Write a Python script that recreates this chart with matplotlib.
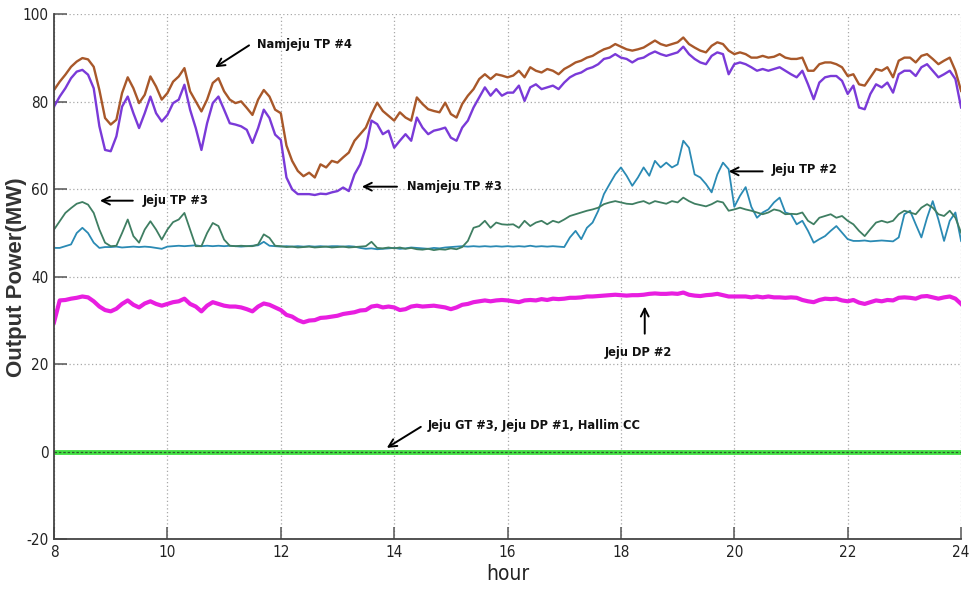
import numpy as np
import matplotlib
matplotlib.use("Agg")
import matplotlib.pyplot as plt
from matplotlib import font_manager as fm

plt.rcParams['axes.unicode_minus'] = False

# sampling every 0.1 h from 8:00 to 24:00
hours = np.round(np.arange(8.0, 24.0001, 0.1), 1)

namjeju_tp4 = [
    82.7, 84.6, 86.2, 88.0, 89.2, 90.0, 89.7, 88.0, 82.7, 76.3,
    74.8, 75.9, 82.0, 85.6, 83.1, 79.7, 81.6, 85.8, 83.5, 80.5,
    82.0, 84.6, 85.8, 87.7, 82.4, 80.1, 77.8, 80.5, 84.3, 85.4,
    82.4, 80.5, 79.7, 80.1, 78.6, 77.0, 80.5, 82.7, 81.2, 78.2,
    77.4, 70.0, 66.5, 64.2, 63.0, 63.8, 62.7, 65.7, 65.0, 66.5,
    66.1, 67.3, 68.4, 71.1, 72.6, 74.1, 77.2, 79.8, 77.9, 76.8,
    75.7, 77.6, 76.4, 75.7, 81.0, 79.5, 78.3, 77.9, 77.6, 79.8,
    77.2, 76.4, 79.5, 81.4, 82.9, 85.2, 86.3, 85.2, 86.3, 86.0,
    85.6, 86.0, 87.1, 85.6, 87.9, 87.1, 86.7, 87.5, 87.1, 86.3,
    87.5, 88.2, 89.0, 89.4, 90.1, 90.5, 91.3, 92.0, 92.4, 93.2,
    92.6, 92.0, 91.7, 92.0, 92.4, 93.2, 94.0, 93.2, 92.8, 93.2,
    93.6, 94.7, 93.2, 92.4, 91.7, 91.3, 92.8, 93.6, 93.2, 91.7,
    90.9, 91.3, 90.9, 90.1, 90.1, 90.5, 90.1, 90.3, 90.9, 90.1,
    89.8, 89.8, 90.1, 87.1, 87.1, 88.6, 89.0, 89.0, 88.6, 87.9,
    85.9, 86.3, 84.0, 83.7, 85.6, 87.5, 87.1, 87.9, 85.6, 89.4,
    90.1, 90.1, 89.0, 90.5, 90.9, 89.8, 88.6, 89.4, 90.1, 87.1,
    82.5,
]

namjeju_tp3 = [
    78.9, 81.2, 83.1, 85.4, 86.9, 87.3, 86.2, 83.1, 74.4, 69.0,
    68.7, 72.1, 78.9, 81.2, 77.4, 74.0, 77.4, 81.2, 77.4, 75.5,
    77.0, 79.7, 80.5, 83.9, 78.2, 74.0, 69.0, 75.1, 79.7, 81.2,
    78.2, 75.1, 74.8, 74.4, 73.6, 70.6, 74.0, 78.2, 76.3, 72.5,
    71.3, 62.7, 60.0, 58.9, 58.9, 58.9, 58.7, 59.0, 58.9, 59.3,
    59.6, 60.4, 59.6, 63.4, 65.7, 69.5, 75.7, 74.9, 72.6, 73.4,
    69.5, 71.1, 72.6, 71.1, 76.4, 74.1, 72.6, 73.4, 73.7, 74.1,
    71.8, 71.1, 74.1, 75.7, 78.7, 81.0, 83.3, 81.4, 82.9, 81.4,
    82.1, 82.1, 83.7, 80.2, 83.3, 84.0, 82.9, 83.3, 83.7, 82.9,
    84.4, 85.6, 86.3, 86.7, 87.5, 87.9, 88.6, 89.8, 90.1, 90.9,
    90.1, 89.8, 89.0, 89.8, 90.1, 90.9, 91.5, 90.9, 90.5, 90.9,
    91.3, 92.6, 90.9, 89.8, 89.0, 88.6, 90.5, 91.3, 90.9, 86.3,
    88.6, 89.0, 88.6, 87.9, 87.1, 87.5, 87.1, 87.5, 87.9, 87.1,
    86.3, 85.6, 87.1, 84.0, 80.6, 84.4, 85.6, 85.9, 85.9, 84.8,
    81.8, 83.7, 78.7, 78.3, 81.8, 84.0, 83.3, 84.4, 82.1, 86.3,
    87.1, 87.1, 85.9, 87.9, 88.6, 87.1, 85.6, 86.3, 87.1, 85.2,
    78.7,
]

jeju_tp3 = [
    50.8, 52.7, 54.6, 55.7, 56.7, 57.1, 56.5, 54.6, 50.8, 47.8,
    47.0, 47.1, 50.0, 53.1, 49.3, 47.8, 50.8, 52.7, 50.8, 48.5,
    50.8, 52.5, 53.1, 54.6, 50.8, 47.0, 47.0, 50.0, 52.3, 51.6,
    48.5, 47.1, 47.0, 47.1, 47.0, 47.0, 47.4, 49.7, 48.9, 47.1,
    47.0, 46.8, 46.9, 46.7, 46.8, 46.9, 46.7, 46.8, 46.9, 46.7,
    46.8, 46.9, 46.7, 46.8, 46.9, 47.0, 48.0, 46.6, 46.5, 46.7,
    46.5, 46.7, 46.4, 46.6, 46.3, 46.2, 46.4, 46.1, 46.3, 46.2,
    46.5, 46.3, 46.8, 48.2, 51.2, 51.6, 52.8, 51.2, 52.4, 52.0,
    51.9, 52.0, 51.2, 52.8, 51.6, 52.4, 52.8, 52.0, 52.8, 52.4,
    53.1, 53.9, 54.3, 54.7, 55.1, 55.4, 55.8, 56.6, 57.0, 57.3,
    57.0, 56.7, 56.6, 57.0, 57.3, 56.7, 57.3, 57.0, 56.7, 57.3,
    57.0, 58.1, 57.3, 56.7, 56.4, 56.1, 56.6, 57.3, 57.0, 55.1,
    55.4, 55.8, 55.4, 55.1, 54.7, 54.3, 54.7, 55.4, 55.1, 54.3,
    54.4, 54.3, 54.7, 52.8, 52.0, 53.5, 53.9, 54.3, 53.5, 53.9,
    52.8, 52.0, 50.5, 49.3, 50.9, 52.4, 52.8, 52.4, 52.8, 54.3,
    55.1, 54.7, 54.3, 55.8, 56.6, 55.8, 54.3, 53.9, 55.1, 53.5,
    50.1,
]

jeju_tp2 = [
    46.6, 46.6, 47.0, 47.4, 50.0, 51.2, 50.0, 47.8, 46.6, 46.8,
    46.8, 46.9, 46.7, 46.8, 46.9, 46.8, 46.9, 46.8, 46.6, 46.4,
    46.9, 47.0, 47.1, 47.0, 47.1, 47.2, 47.0, 47.1, 47.0, 47.1,
    47.0, 47.1, 47.0, 46.9, 47.0, 47.1, 47.2, 48.0, 47.1, 47.0,
    46.9, 47.0, 46.9, 47.0, 46.9, 47.0, 46.9, 47.0, 46.9, 47.0,
    47.0, 46.9, 47.0, 46.9, 46.6, 46.4, 46.5, 46.3, 46.4, 46.5,
    46.6, 46.4, 46.5, 46.7, 46.6, 46.5, 46.4, 46.6, 46.5, 46.7,
    46.8, 46.9, 47.0, 46.9, 47.0, 46.9, 47.0, 46.9, 47.0, 46.9,
    47.0, 46.9, 47.0, 46.9, 47.1, 46.9, 47.0, 46.9, 47.0, 46.9,
    46.8, 49.0, 50.5, 48.6, 51.2, 52.4, 55.1, 58.9, 61.2, 63.4,
    65.0, 63.1, 60.8, 62.7, 65.0, 63.1, 66.5, 65.0, 66.1, 65.0,
    65.7, 71.1, 69.5, 63.4, 62.7, 61.2, 59.3, 63.4, 66.1, 64.6,
    56.0, 58.5, 60.5, 56.0, 53.5, 54.7, 55.4, 57.0, 58.1, 54.7,
    54.3, 52.0, 52.8, 50.5, 47.8, 48.6, 49.3, 50.5, 51.6, 50.1,
    48.6, 48.2, 48.2, 48.3, 48.1, 48.2, 48.3, 48.2, 48.1, 49.0,
    54.3, 55.1, 52.0, 49.0, 53.5, 57.3, 53.1, 48.2, 52.8, 54.7,
    48.2,
]

jeju_dp2 = [
    29.6, 34.6, 34.7, 35.0, 35.2, 35.5, 35.3, 34.4, 33.2, 32.4,
    32.1, 32.7, 33.8, 34.6, 33.6, 33.0, 33.9, 34.4, 33.8, 33.4,
    33.8, 34.2, 34.4, 35.0, 33.8, 33.2, 32.1, 33.4, 34.2, 33.8,
    33.4, 33.2, 33.2, 33.0, 32.6, 32.1, 33.2, 33.9, 33.6, 33.0,
    32.4, 31.3, 30.9, 30.1, 29.6, 30.0, 30.1, 30.6, 30.7, 30.9,
    31.1, 31.5, 31.7, 31.9, 32.3, 32.4, 33.2, 33.4, 33.0, 33.2,
    33.0, 32.4, 32.6, 33.2, 33.4, 33.2, 33.3, 33.4, 33.2, 33.0,
    32.6, 33.0, 33.6, 33.8, 34.2, 34.4, 34.6, 34.4, 34.6, 34.7,
    34.6, 34.4, 34.2, 34.6, 34.7, 34.6, 34.9, 34.7, 35.0, 34.9,
    35.0, 35.2, 35.2, 35.3, 35.5, 35.5, 35.6, 35.7, 35.8, 35.9,
    35.8, 35.7, 35.8, 35.8, 35.9, 36.1, 36.2, 36.1, 36.1, 36.2,
    36.1, 36.4, 35.9, 35.7, 35.6, 35.8, 35.9, 36.1, 35.8, 35.5,
    35.5, 35.5, 35.5, 35.3, 35.5, 35.3, 35.5, 35.3, 35.3, 35.2,
    35.3, 35.2, 34.7, 34.4, 34.2, 34.7, 35.0, 34.9, 35.0, 34.6,
    34.4, 34.7, 34.1, 33.8, 34.2, 34.6, 34.4, 34.7, 34.6, 35.2,
    35.3, 35.2, 35.0, 35.5, 35.6, 35.3, 35.0, 35.3, 35.5, 35.0,
    33.8,
]

# Jeju GT #3, Jeju DP #1 and Hallim CC stayed off all day
idle_hours = [8.0, 24.0]
idle_output = [0.0, 0.0]

xticks = [8, 10, 12, 14, 16, 18, 20, 22, 24]
yticks = [-20, 0, 20, 40, 60, 80, 100]

# narrow face for ticks and notes, if one is around
have_condensed = any(f.name == 'DejaVu Sans' and f.stretch == 'condensed'
                     for f in fm.fontManager.ttflist)
narrow = dict(family='DejaVu Sans', stretch='condensed' if have_condensed else 'normal')
shrink = 1.0 if have_condensed else 0.9

fig = plt.figure(figsize=(9.7, 5.89), dpi=100)
ax = fig.add_axes([0.0557, 0.0844, 0.9351, 0.8913])

ax.plot(idle_hours, idle_output, color='#44e044', lw=3.5, solid_capstyle='butt', zorder=2)
ax.plot(idle_hours, idle_output, color='#2f5a2f', lw=0.9, dashes=(2, 1.5), zorder=3)
ax.plot(hours, jeju_dp2, color='#e81ee0', lw=3.0, zorder=2)
ax.plot(hours, jeju_tp2, color='#2a8ab4', lw=1.3, zorder=2)
ax.plot(hours, jeju_tp3, color='#3f7e62', lw=1.3, zorder=2)
ax.plot(hours, namjeju_tp4, color='#a8582a', lw=1.7, zorder=2)
ax.plot(hours, namjeju_tp3, color='#7a3ad8', lw=1.7, zorder=2)

ax.set_xlim(8, 24)
ax.set_ylim(-20, 100)
ax.set_xticks(xticks)
ax.set_yticks(yticks)
ax.grid(True, color='#a8a8a8', lw=0.9, linestyle=(0, (1, 2)))
for side in ('top', 'right'):
    ax.spines[side].set_visible(False)
for side in ('left', 'bottom'):
    ax.spines[side].set_color('#444444')
    ax.spines[side].set_linewidth(1.3)
ax.tick_params(direction='in', length=9, width=1.1, color='#555555',
               labelcolor='#222222', labelsize=11 * shrink, pad=4)
for lab in ax.get_xticklabels() + ax.get_yticklabels():
    lab.set_family(narrow['family'])
    lab.set_stretch(narrow['stretch'])

ax.set_xlabel('hour', fontsize=15 * shrink, color='#222222', labelpad=3, **narrow)
ax.set_ylabel('Output Power(MW)', family=['Liberation Sans', 'DejaVu Sans'],
              fontsize=16, fontweight='bold', color='#333333')
ax.yaxis.set_label_coords(-0.0298, 0.5)

arrow = dict(arrowstyle='->', color='black', lw=1.4, shrinkA=0, shrinkB=0,
             mutation_scale=14)
label_kw = dict(fontsize=9.2 * shrink, fontweight='bold', color='#111111',
                va='center', **narrow)

# (text position, arrow tail, arrow head, text, horizontal alignment)
notes = [
    ((11.58, 93.1), (11.44, 92.9), (10.84, 87.9), 'Namjeju TP #4', 'left'),
    ((14.23, 60.6), (14.05, 60.6), (13.43, 60.6), 'Namjeju TP #3', 'left'),
    ((9.57, 57.4), (9.39, 57.4), (8.81, 57.4), 'Jeju TP #3', 'left'),
    ((20.66, 64.5), (20.50, 64.1), (19.90, 64.1), 'Jeju TP #2', 'left'),
    ((18.30, 22.6), (18.42, 27.0), (18.42, 33.2), 'Jeju DP #2', 'center'),
    ((14.60, 5.9), (14.47, 5.7), (13.87, 0.9), 'Jeju GT #3, Jeju DP #1, Hallim CC', 'left'),
]
for txt_xy, tail, head, txt, ha in notes:
    ax.annotate('', xy=head, xytext=tail, arrowprops=arrow, zorder=5)
    ax.text(txt_xy[0], txt_xy[1], txt, ha=ha, zorder=5, **label_kw)

fig.savefig('out.png', dpi=100)
